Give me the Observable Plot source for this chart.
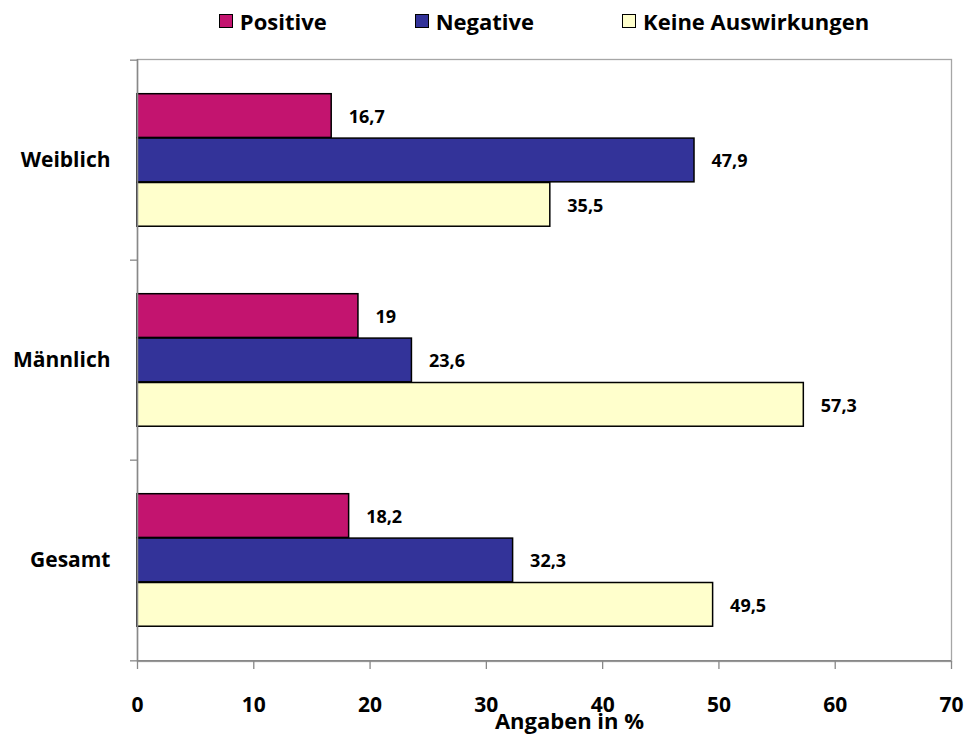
<!DOCTYPE html>
<html>
<head>
<meta charset="utf-8">
<script src="https://cdn.jsdelivr.net/npm/d3@7"></script>
<script src="https://cdn.jsdelivr.net/npm/@observablehq/plot@0.6"></script>
<style>
  body { margin: 0; background: #fff; font-family: "Open Sans", sans-serif; }
  #wrap { width: 966px; position: relative; }
  #legend { height: 40px; position: relative; }
  #legend .items { position: absolute; left: 137px; width: 814px; top: 8px; height: 26px;
    display: flex; justify-content: center; align-items: center; gap: 88px; }
  #legend .item { display: flex; align-items: center; font-size: 22px; font-weight: 700; color: #000; line-height: 26px; }
  #legend .sw { width: 12px; height: 12px; border: 1.6px solid #000; margin-right: 7px; }
</style>
</head>
<body>
<div id="wrap">
  <div id="legend"><div class="items"></div></div>
  <div id="chart"></div>
</div>
<script>
// ---- data ----
const categories = ["Weiblich", "Männlich", "Gesamt"];
const seriesNames = ["Positive", "Negative", "Keine Auswirkungen"];
const positive = [16.7, 19, 18.2];
const negative = [47.9, 23.6, 32.3];
const keine = [35.5, 57.3, 49.5];
const xTicks = [0, 10, 20, 30, 40, 50, 60, 70];
const xLabel = "Angaben in %";
const colors = ["#C3146F", "#333399", "#FFFFCC"];

// ---- layout / style ----
const W = 966, H = 694, mt = 19, mb = 73, ml = 137, mr = 15;
const bw = (H - mt - mb) / categories.length;
const barH = 44.4, top0 = 33.7;
const font = "'Open Sans', sans-serif";
const fmt = d => String(d).replace(".", ",");

const seriesValues = [positive, negative, keine];
const tables = seriesValues.map((vals, s) =>
  categories.map((c, i) => ({category: c, series: seriesNames[s], value: vals[i]})));

const marks = [
  Plot.frame({stroke: "#a6a6a6", strokeWidth: 1.3}),
];
tables.forEach((t, s) => {
  const insetTop = top0 + s * barH;
  const insetBottom = bw - insetTop - barH;
  marks.push(Plot.barX(t, {
    x: "value", y: "category", fill: colors[s],
    stroke: "#000", strokeWidth: 1.5, insetTop, insetBottom
  }));
  marks.push(Plot.text(t, {
    x: "value", y: "category", text: d => fmt(d.value),
    textAnchor: "start", dx: 17, dy: top0 + s * barH + barH / 2 - bw / 2 + 1,
    fontSize: 18, fontWeight: "bold", fontFamily: font, fill: "#000"
  }));
});
marks.push(
  Plot.ruleX([0], {stroke: "#888", strokeWidth: 1.5}),
  Plot.axisY({tickSize: 0, tickPadding: 27, fontSize: 21, fontWeight: "bold", fontFamily: font, fill: "#000", label: null}),
  Plot.axisY({tickSize: 7, tickFormat: () => "", dy: -bw / 2, stroke: "#888", strokeWidth: 1.3, label: null}),
  Plot.axisY({ticks: [categories[categories.length - 1]], tickSize: 7, tickFormat: () => "", dy: bw / 2, stroke: "#888", strokeWidth: 1.3, label: null}),
  Plot.ruleY([0], {y: () => categories[categories.length - 1], x1: 0, x2: 70, dy: bw / 2, stroke: "#888", strokeWidth: 1.5}),
  Plot.axisX({ticks: xTicks, tickSize: 8, tickPadding: 28, stroke: "#888", strokeWidth: 1.3,
    fontSize: 21, fontWeight: "bold", fontFamily: font, fill: "#000", label: null}),
  Plot.text([xLabel], {text: d => d, frameAnchor: "bottom", lineAnchor: "middle", dy: 60, dx: 25,
    fontSize: 22, fontWeight: "bold", fontFamily: font, fill: "#000"})
);

const chart = Plot.plot({
  width: W, height: H,
  marginTop: mt, marginBottom: mb, marginLeft: ml, marginRight: mr,
  x: {domain: [0, 70]},
  y: {domain: categories, padding: 0},
  style: {background: "#fff", fontFamily: font, overflow: "visible"},
  marks
});
document.getElementById("chart").appendChild(chart);

// ---- legend ----
const items = document.querySelector("#legend .items");
seriesNames.forEach((n, i) => {
  const it = document.createElement("div");
  it.className = "item";
  const sw = document.createElement("span");
  sw.className = "sw";
  sw.style.background = colors[i];
  it.appendChild(sw);
  it.appendChild(document.createTextNode(n));
  items.appendChild(it);
});
</script>
</body>
</html>
